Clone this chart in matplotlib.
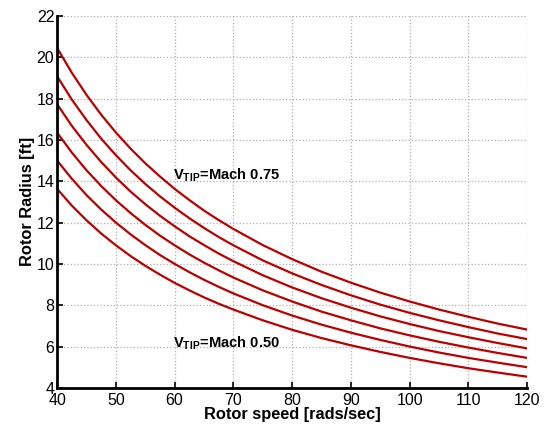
import numpy as np
import matplotlib.pyplot as plt

plt.rcParams['font.family'] = ['Liberation Sans', 'DejaVu Sans']
plt.rcParams['mathtext.fontset'] = 'custom'
plt.rcParams['mathtext.rm'] = 'Liberation Sans'
plt.rcParams['mathtext.bf'] = 'Liberation Sans:bold'

# rotor speed [rads/sec]
speed = [40, 42.5, 45, 47.5, 50, 52.5, 55, 57.5, 60, 62.5, 65, 67.5, 70,
         75, 80, 85, 90, 95, 100, 105, 110, 115, 120]

# rotor radius [ft], tip Mach 0.75 down to 0.50
r_075 = [20.45, 19.25, 18.18, 17.22, 16.36, 15.58, 14.87, 14.23, 13.63, 13.09, 12.58, 12.12, 11.69,
         10.91, 10.23, 9.62, 9.09, 8.61, 8.18, 7.79, 7.44, 7.11, 6.82]
r_070 = [19.08, 17.95, 16.96, 16.06, 15.26, 14.53, 13.87, 13.27, 12.72, 12.21, 11.74, 11.30, 10.90,
         10.17, 9.54, 8.98, 8.48, 8.03, 7.63, 7.27, 6.94, 6.63, 6.36]
r_065 = [17.73, 16.68, 15.76, 14.93, 14.18, 13.50, 12.89, 12.33, 11.82, 11.34, 10.91, 10.50, 10.13,
         9.45, 8.86, 8.34, 7.88, 7.46, 7.09, 6.75, 6.45, 6.17, 5.91]
r_060 = [16.35, 15.39, 14.53, 13.77, 13.08, 12.46, 11.89, 11.37, 10.90, 10.46, 10.06, 9.69, 9.34,
         8.72, 8.18, 7.69, 7.27, 6.88, 6.54, 6.23, 5.95, 5.69, 5.45]
r_055 = [15.00, 14.12, 13.33, 12.63, 12.00, 11.43, 10.91, 10.43, 10.00, 9.60, 9.23, 8.89, 8.57,
         8.00, 7.50, 7.06, 6.67, 6.32, 6.00, 5.71, 5.45, 5.22, 5.00]
r_050 = [13.63, 12.82, 12.11, 11.47, 10.90, 10.38, 9.91, 9.48, 9.08, 8.72, 8.38, 8.07, 7.79,
         7.27, 6.81, 6.41, 6.06, 5.74, 5.45, 5.19, 4.95, 4.74, 4.54]

curves = [r_075, r_070, r_065, r_060, r_055, r_050]

fig = plt.figure(figsize=(5.44, 4.30), dpi=100)
ax = fig.add_axes([0.105, 0.098, 0.864, 0.865])

for r in curves:
    ax.plot(speed, r, color='#bb0000', lw=1.6)

ax.set_xlim(40, 120)
ax.set_ylim(4, 22)
ax.set_xticks(np.arange(40, 121, 10))
ax.set_yticks(np.arange(4, 23, 2))
ax.grid(True, color='#b0b0b0', linestyle=':', lw=0.9)
ax.tick_params(direction='in', length=4, width=1.2, labelsize=11.5, pad=2)
ax.tick_params(axis='x', pad=4)
for s in ['top', 'right']:
    ax.spines[s].set_visible(False)
for s in ['left', 'bottom']:
    ax.spines[s].set_linewidth(2)

ax.set_xlabel('Rotor speed [rads/sec]', fontsize=11.8, fontweight='bold', labelpad=-1)
ax.set_ylabel('Rotor Radius [ft]', fontsize=11.8, fontweight='bold', labelpad=1)

ax.text(59.8, 14.1, r'$\mathbf{V}_{\mathbf{TIP}}$=Mach 0.75', fontsize=10.6,
        fontweight='bold', va='baseline')
ax.text(59.8, 5.98, r'$\mathbf{V}_{\mathbf{TIP}}$=Mach 0.50', fontsize=10.6,
        fontweight='bold', va='baseline')

fig.savefig('out.png', dpi=100)
